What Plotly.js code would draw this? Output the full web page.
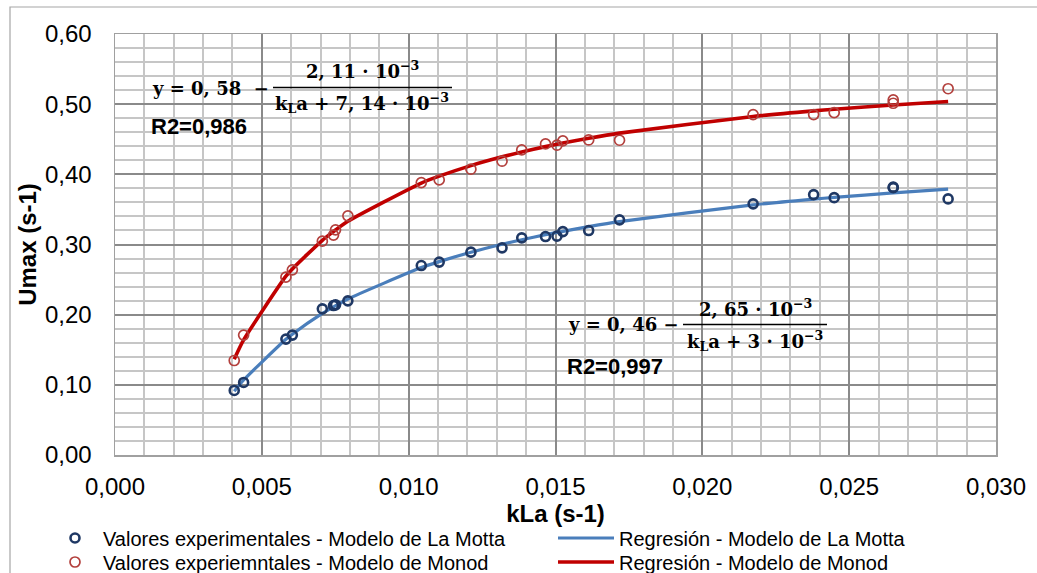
<!DOCTYPE html>
<html>
<head>
<meta charset="utf-8">
<script src="https://cdn.plot.ly/plotly-3.0.1.min.js"></script>
<style>html,body{margin:0;padding:0;background:#fff;}#chart{width:1037px;height:573px;}</style>
</head>
<body>
<div id="chart"></div>
<script>
// ---- data ----
const kLaExp = [0.00406, 0.00438, 0.00582, 0.00604, 0.00706, 0.00744, 0.00751, 0.00793, 0.01043, 0.01104, 0.01212, 0.01318, 0.01385, 0.01466, 0.01505, 0.01525, 0.01613, 0.01718, 0.02173, 0.02379, 0.02449, 0.0265, 0.0265, 0.02837];
const umaxLaMotta = [0.0920, 0.1034, 0.1652, 0.1709, 0.2083, 0.2130, 0.2140, 0.2197, 0.2700, 0.2749, 0.2891, 0.2952, 0.3095, 0.3113, 0.3119, 0.3184, 0.3199, 0.3351, 0.3579, 0.3711, 0.3668, 0.3817, 0.3810, 0.3650];
const umaxMonod = [0.1347, 0.1709, 0.2535, 0.2639, 0.3048, 0.3133, 0.3209, 0.3408, 0.3882, 0.3921, 0.4073, 0.4187, 0.4348, 0.4433, 0.4415, 0.4476, 0.4490, 0.4486, 0.4851, 0.4851, 0.4879, 0.5060, 0.5013, 0.5220];

const kLaFit = [0.00406, 0.00438, 0.00582, 0.00604, 0.00706, 0.00744, 0.00751, 0.00793, 0.01043, 0.01104, 0.01212, 0.01318, 0.01385, 0.01466, 0.01505, 0.01525, 0.01613, 0.01718, 0.02173, 0.02379, 0.02449, 0.0265, 0.02837];
const fitLaMotta = [0.0908, 0.1069, 0.1650, 0.1722, 0.2017, 0.2112, 0.2128, 0.2224, 0.2671, 0.2756, 0.2890, 0.3004, 0.3068, 0.3140, 0.3172, 0.3188, 0.3254, 0.3325, 0.3565, 0.3646, 0.3671, 0.3736, 0.3789];
const fitMonod = [0.1366, 0.1641, 0.2548, 0.2652, 0.3060, 0.3185, 0.3207, 0.3331, 0.3876, 0.3974, 0.4124, 0.4249, 0.4319, 0.4395, 0.4428, 0.4445, 0.4514, 0.4587, 0.4825, 0.4904, 0.4928, 0.4989, 0.5039];

const names = [
  'Valores experimentales - Modelo de La Motta',
  'Regresión - Modelo de La Motta',
  'Valores experiemntales - Modelo de Monod',
  'Regresión - Modelo de Monod'
];
const xTitle = 'kLa (s-1)';
const yTitle = 'Umax (s-1)';

// ---- layout geometry ----
const W = 1037, H = 573;
const M = {l: 115, r: 41, t: 34, b: 118, autoexpand: false};
const PW = W - M.l - M.r, PH = H - M.t - M.b;
const px = x => (x - M.l) / PW;
const py = y => (H - M.b - y) / PH;

const SANS = 'Liberation Sans, Arial, sans-serif';
const SERIF = 'DejaVu Serif, Liberation Serif, serif';

function ann(text, x, y, xanchor, size, family) {
  return {xref: 'paper', yref: 'paper', x: px(x), y: py(y), xanchor: xanchor, yanchor: 'middle',
    showarrow: false, text: text, font: {size: size, family: family, color: '#000'}};
}
function leg(x, y, itemwidth) {
  return {orientation: 'v', x: px(x), y: py(y), xanchor: 'left', yanchor: 'middle',
    font: {family: SANS, size: 20, color: '#000'}, bgcolor: 'rgba(0,0,0,0)', borderwidth: 0,
    itemwidth: itemwidth};
}

const traces = [
  {x: kLaFit, y: fitLaMotta, type: 'scatter', mode: 'lines', name: names[1], legend: 'legend2',
   line: {color: '#4A7EBB', width: 3.2, shape: 'spline', smoothing: 0.6}},
  {x: kLaFit, y: fitMonod, type: 'scatter', mode: 'lines', name: names[3], legend: 'legend4',
   line: {color: '#C00000', width: 3.6, shape: 'spline', smoothing: 0.6}},
  {x: kLaExp, y: umaxLaMotta, type: 'scatter', mode: 'markers', name: names[0], legend: 'legend',
   marker: {symbol: 'circle-open', size: 9, color: '#1F3864', line: {color: '#1F3864', width: 2.6}}},
  {x: kLaExp, y: umaxMonod, type: 'scatter', mode: 'markers', name: names[2], legend: 'legend3',
   marker: {symbol: 'circle-open', size: 10, color: '#B3403D', line: {color: '#B3403D', width: 1.7}}}
];

const layout = {
  width: W, height: H,
  margin: M,
  paper_bgcolor: '#fff', plot_bgcolor: '#fff',
  separators: ',.',
  font: {family: SANS, size: 24, color: '#000'},
  showlegend: true,
  legend: leg(47, 538, 46),
  legend3: leg(47, 562, 46),
  legend2: leg(553, 538, 56),
  legend4: leg(553, 562, 56),
  xaxis: {
    range: [0, 0.030], dtick: 0.005, tick0: 0, tickformat: '.3f',
    showgrid: true, gridcolor: '#8A8A8A', gridwidth: 2,
    minor: {dtick: 0.001, showgrid: true, gridcolor: '#C6C6C6', gridwidth: 2},
    zeroline: false, showline: true, mirror: true, linecolor: '#A0A0A0', linewidth: 1.5,
    ticks: '', ticklabelstandoff: 10,
    tickfont: {family: SANS, size: 24, color: '#000'},
    title: {text: '<b>' + xTitle + '</b>', font: {family: SANS, size: 24, color: '#000'}, standoff: 4}
  },
  yaxis: {
    range: [0, 0.60], dtick: 0.1, tick0: 0, tickformat: '.2f',
    showgrid: true, gridcolor: '#8A8A8A', gridwidth: 2,
    minor: {dtick: 0.02, showgrid: true, gridcolor: '#C6C6C6', gridwidth: 2},
    zeroline: false, showline: true, mirror: true, linecolor: '#A0A0A0', linewidth: 1.5,
    ticks: '', ticklabelstandoff: 17,
    tickfont: {family: SANS, size: 24, color: '#000'},
    title: {text: '<b>' + yTitle + '</b>', font: {family: SANS, size: 24, color: '#000'}, standoff: 1}
  },
  shapes: [
    // outer chart frame
    {type: 'rect', xref: 'paper', yref: 'paper', x0: px(10), x1: px(1045), y0: py(580), y1: py(7),
     line: {color: '#A6A6A6', width: 1.2}, fillcolor: 'rgba(0,0,0,0)', layer: 'below'},
    // fraction bars
    {type: 'line', xref: 'paper', yref: 'paper', x0: px(273), x1: px(452), y0: py(87.5), y1: py(87.5),
     line: {color: '#000', width: 1.4}},
    {type: 'line', xref: 'paper', yref: 'paper', x0: px(683), x1: px(827), y0: py(324.5), y1: py(324.5),
     line: {color: '#000', width: 1.4}}
  ],
  annotations: [
    ann('<b>y = 0, 58  −</b>', 150, 88, 'left', 18, SERIF),
    ann('<b>2, 11 · 10<sup>−3</sup></b>', 362, 70, 'center', 18, SERIF),
    ann('<b>k<sub>L</sub>a + 7, 14 · 10<sup>−3</sup></b>', 362, 103, 'center', 18, SERIF),
    ann('<b>R2=0,986</b>', 149, 127, 'left', 22, SANS),
    ann('<b>y = 0, 46 −</b>', 566, 324, 'left', 18, SERIF),
    ann('<b>2, 65 · 10<sup>−3</sup></b>', 755, 308, 'center', 18, SERIF),
    ann('<b>k<sub>L</sub>a + 3 · 10<sup>−3</sup></b>', 755, 341, 'center', 18, SERIF),
    ann('<b>R2=0,997</b>', 565, 366, 'left', 22, SANS)
  ]
};

Plotly.newPlot('chart', traces, layout, {displayModeBar: false, staticPlot: true});
</script>
</body>
</html>
